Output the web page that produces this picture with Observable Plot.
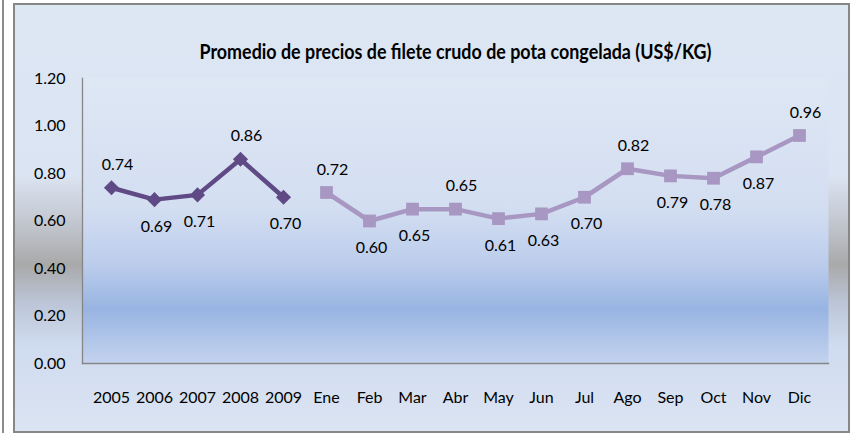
<!DOCTYPE html>
<html><head><meta charset="utf-8">
<script src="https://cdn.jsdelivr.net/npm/d3@7"></script>
<script src="https://cdn.jsdelivr.net/npm/@observablehq/plot@0.6"></script>
<style>
body{margin:0;background:#fff;}
#wrap{position:relative;width:854px;height:435px;overflow:hidden;}
#leftline{position:absolute;left:2px;top:0;width:2px;height:433px;background:#8c8c8c;}
#frame{position:absolute;left:13px;top:3px;width:833px;height:426px;border:2px solid #878787;
 background:linear-gradient(to bottom,#dde6f3 0%,#dbe4f2 40%,#c0c4cc 52%,#a9a9a9 61%,#bcc6d8 70%,#cfdbef 80%,#dbe4f2 100%);}
#chart{position:absolute;left:0;top:0;}
</style></head>
<body><div id="wrap"><div id="leftline"></div><div id="frame"></div><div id="chart"></div></div>
<script>
const title = "Promedio de precios de filete crudo de pota congelada (US$/KG)";
const annualLabels = ["2005","2006","2007","2008","2009"];
const annualValues = [0.74,0.69,0.71,0.86,0.70];
const monthLabels = ["Ene","Feb","Mar","Abr","May","Jun","Jul","Ago","Sep","Oct","Nov","Dic"];
const monthValues = [0.72,0.60,0.65,0.65,0.61,0.63,0.70,0.82,0.79,0.78,0.87,0.96];
const yTicks = [0,0.2,0.4,0.6,0.8,1.0,1.2];
const categories = annualLabels.concat(monthLabels);

function rows(labels, values){
  return labels.map((c,i)=>{
    const v = values[i], n = values.length;
    const above = (i===0 || v>=values[i-1]) && (i===n-1 || v>values[i+1]);
    return {cat:c, value:v, above};
  });
}
const annual = rows(annualLabels, annualValues);
const monthly = rows(monthLabels, monthValues);
const all = annual.concat(monthly);

const dark = "#5f4a86", light = "#a797c2";
const chart = Plot.plot({
  width:854, height:435,
  marginLeft:82, marginRight:26, marginTop:78, marginBottom:72,
  style:{background:"transparent", fontFamily:"Lato, sans-serif", fontSize:"16px", color:"#000"},
  x:{type:"point", domain:categories, padding:0.5, label:null},
  y:{domain:[0,1.2], label:null},
  marks:[
    Plot.frame({fill:"url(#pagrad)", stroke:"none"}),
    Plot.frame({anchor:"left", stroke:"#868686", strokeWidth:1.3}),
    Plot.frame({anchor:"bottom", stroke:"#868686", strokeWidth:1.3}),
    Plot.axisY({ticks:yTicks, tickFormat:d=>d.toFixed(2), tickSize:0, tickPadding:17, fontSize:16, label:null}),
    Plot.axisX({tickSize:0, tickPadding:28, fontSize:16, label:null}),
    Plot.line(annual,{x:"cat",y:"value",stroke:dark,strokeWidth:4.5}),
    Plot.dot(annual,{x:"cat",y:"value",symbol:"diamond2",r:6.8,fill:dark,stroke:"none"}),
    Plot.line(monthly,{x:"cat",y:"value",stroke:light,strokeWidth:4.5}),
    Plot.dot(monthly,{x:"cat",y:"value",symbol:"square",r:7.2,fill:light,stroke:"none"}),
    Plot.text(all.filter(d=>d.above),{x:"cat",y:"value",text:d=>d.value.toFixed(2),dy:-23,dx:6,fontSize:16,fill:"#000"}),
    Plot.text(all.filter(d=>!d.above),{x:"cat",y:"value",text:d=>d.value.toFixed(2),dy:27,dx:2,fontSize:16,fill:"#000"}),
    Plot.text([title],{frameAnchor:"top",dy:-34,text:d=>d,fontWeight:"bold",fontSize:20,fill:"#000",className:"ttl"})
  ]
});
const svg = d3.select(chart);
const defs = svg.insert("defs",":first-child");
const g = defs.append("linearGradient").attr("id","pagrad").attr("x1",0).attr("y1",0).attr("x2",0).attr("y2",1);
[[0,"#dee7f4"],[0.45,"#d3def1"],[0.65,"#bccdec"],[0.81,"#98b4e2"],[0.9,"#adc3e8"],[1,"#c4d3ee"]]
  .forEach(([o,c])=>g.append("stop").attr("offset",o).attr("stop-color",c));
svg.selectAll(".ttl text").attr("textLength",512).attr("lengthAdjust","spacingAndGlyphs");
document.getElementById("chart").appendChild(chart);
</script></body></html>
